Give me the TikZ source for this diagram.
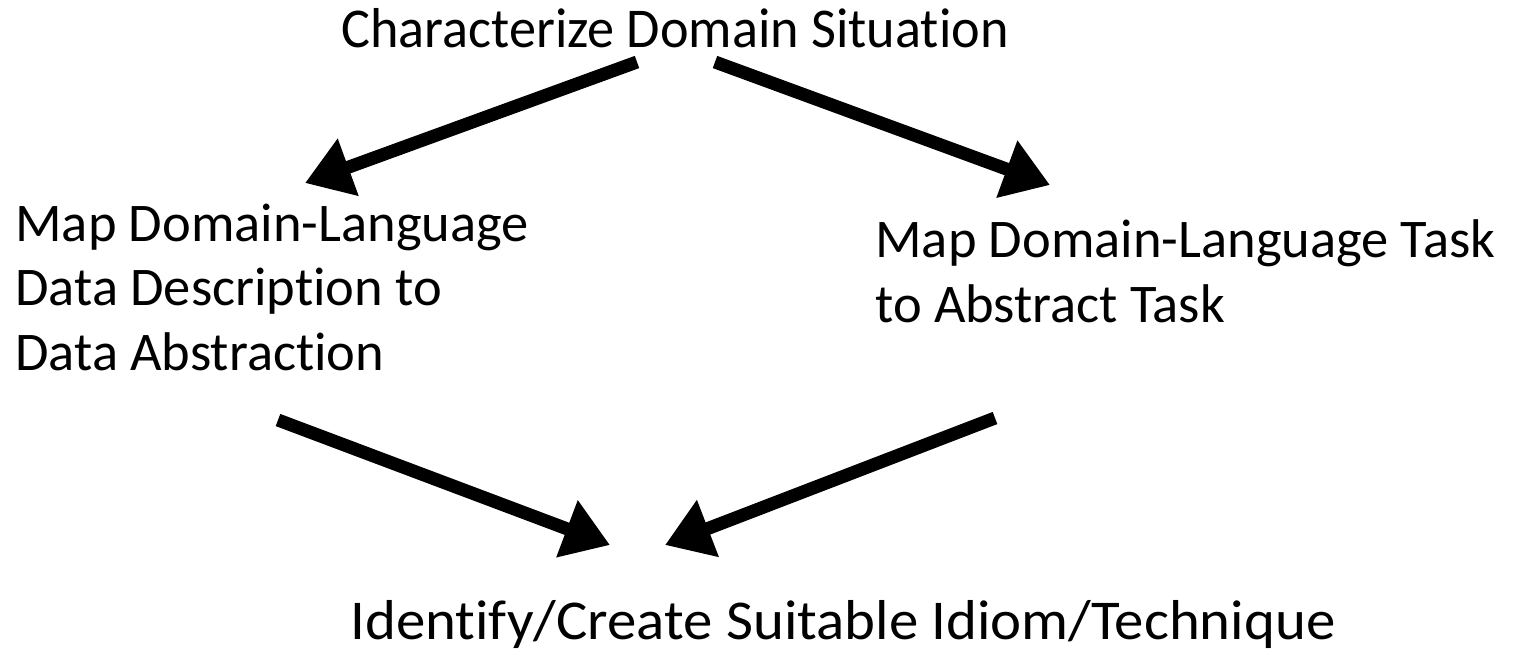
\documentclass[tikz,border=0pt]{standalone}
\usepackage{fontspec}
\setmainfont{Carlito}[Ligatures={NoCommon}]
\usetikzlibrary{arrows.meta}

\tikzset{
  bigarrow/.style={line width=0.26cm,-{Triangle[length=0.92cm,width=1.16cm]}},
  steptext/.style={inner sep=0pt,font=\fontsize{31}{36.5}\selectfont,align=left},
  endtext/.style={inner sep=0pt,font=\fontsize{32}{38}\selectfont}
}

\begin{document}
\begin{tikzpicture}[x=0.02cm,y=-0.02cm]
            \useasboundingbox (0,0) rectangle (1513,654);
            \node[endtext,anchor=base] (situation) at (675,47) {\scalebox{0.965}[1]{Characterize Domain Situation}};
            \node[steptext,anchor=base west] (datamap) at (15,370) {Map Domain-Language\\Data Description to\\Data Abstraction};
            \node[steptext,anchor=base west] (taskmap) at (875,322) {Map Domain-Language Task\\to Abstract Task};
            \node[endtext,anchor=base] (idiom) at (843,639) {\scalebox{1.046}[1]{Identify/Create Suitable Idiom/Technique}};
            \coordinate (s1) at (637,62);
            \coordinate (d1) at (305,183);
            \coordinate (s2) at (715,62);
            \coordinate (t1) at (1050,185);
            \coordinate (d2) at (278,420);
            \coordinate (i1) at (610,545);
            \coordinate (t2) at (995,418);
            \coordinate (i2) at (665,545);
            \draw[bigarrow] (s1) -- (d1);
            \draw[bigarrow] (s2) -- (t1);
            \draw[bigarrow] (d2) -- (i1);
            \draw[bigarrow] (t2) -- (i2);
        \end{tikzpicture}
\end{document}
